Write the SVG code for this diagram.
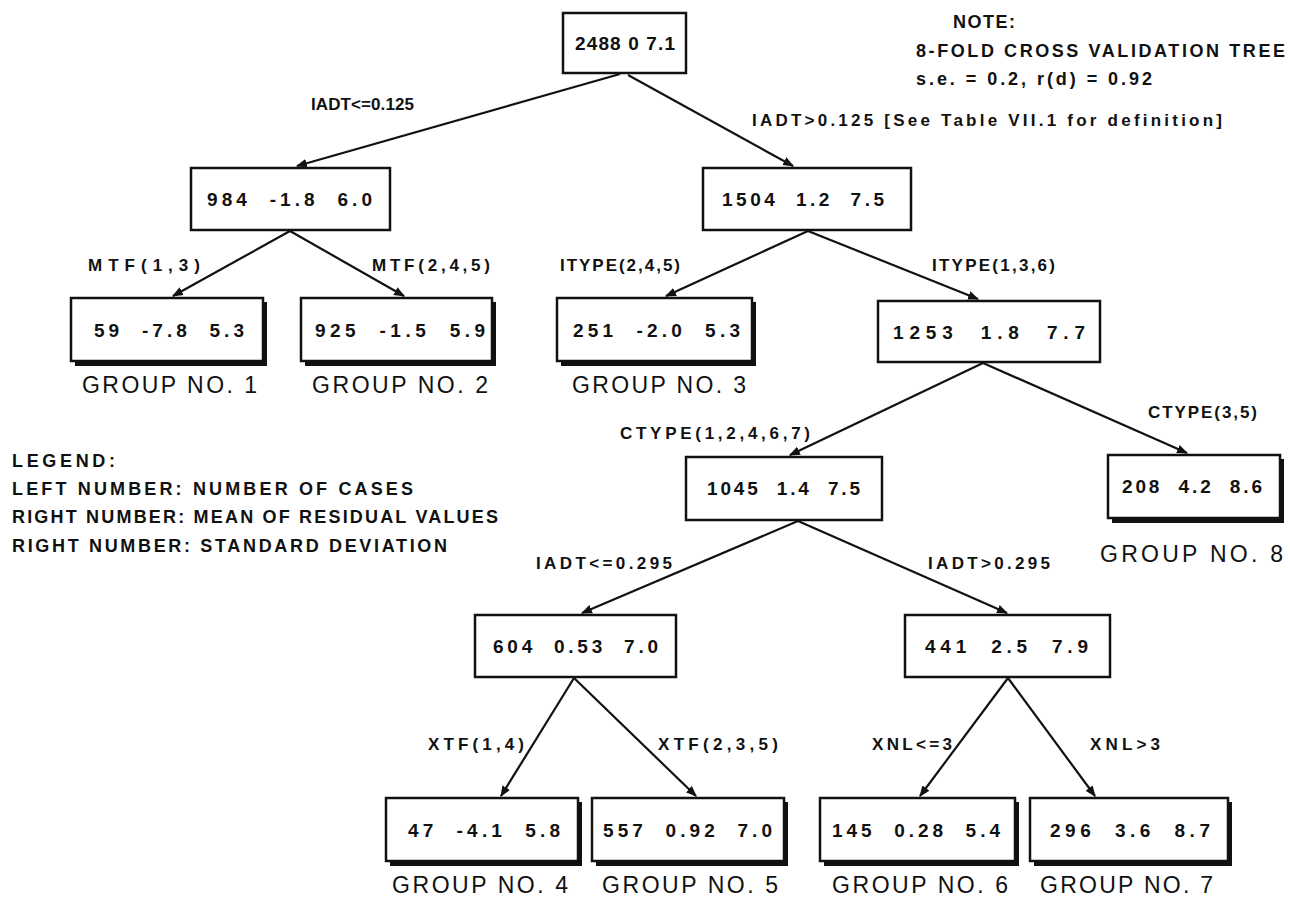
<svg xmlns="http://www.w3.org/2000/svg" width="1290" height="898" viewBox="0 0 1290 898">
<defs>
<style>
.bx{fill:#fff;stroke:#111;stroke-width:2.5}
.sh{fill:#111}
.v{font-family:"Liberation Sans",Arial,sans-serif;font-weight:bold;font-size:19px;fill:#111;white-space:pre}
.lb{font-family:"Liberation Sans",Arial,sans-serif;font-weight:bold;font-size:17px;fill:#111}
.g{font-family:"Liberation Sans",Arial,sans-serif;font-size:23px;fill:#111}
.n{font-family:"Liberation Sans",Arial,sans-serif;font-weight:bold;font-size:18px;fill:#111}
.ln{stroke:#111;stroke-width:2.2;fill:none;marker-end:url(#ah)}
</style>
<marker id="ah" viewBox="0 0 10 10" refX="9" refY="5" markerWidth="5" markerHeight="5" orient="auto" markerUnits="strokeWidth">
<path d="M0,1 L10,5 L0,9 Z" fill="#111"/>
</marker>
</defs>
<rect width="1290" height="898" fill="#fff"/>

<g id="connectors">
<line class="ln" x1="620" y1="74" x2="297" y2="166"/>
<line class="ln" x1="628" y1="75" x2="793" y2="166"/>
<line class="ln" x1="290" y1="231" x2="173" y2="296"/>
<line class="ln" x1="290" y1="231" x2="404" y2="296"/>
<line class="ln" x1="808" y1="231" x2="666" y2="296"/>
<line class="ln" x1="808" y1="231" x2="978" y2="299"/>
<line class="ln" x1="983" y1="363" x2="790" y2="455"/>
<line class="ln" x1="983" y1="363" x2="1187" y2="453"/>
<line class="ln" x1="798" y1="521" x2="582" y2="613"/>
<line class="ln" x1="798" y1="521" x2="1007" y2="613"/>
<line class="ln" x1="574" y1="678" x2="501" y2="796"/>
<line class="ln" x1="574" y1="678" x2="696" y2="796"/>
<line class="ln" x1="1008" y1="678" x2="920" y2="796"/>
<line class="ln" x1="1008" y1="678" x2="1095" y2="796"/>
</g>

<g id="edge-labels">
<text class="lb" x="311" y="110" textLength="103" lengthAdjust="spacing">IADT&lt;=0.125</text>
<text class="lb" x="752" y="126" textLength="470" lengthAdjust="spacing">IADT&gt;0.125 [See Table VII.1 for definition]</text>
<text class="lb" x="88" y="271" textLength="112" lengthAdjust="spacing">MTF(1,3)</text>
<text class="lb" x="372" y="271" textLength="118" lengthAdjust="spacing">MTF(2,4,5)</text>
<text class="lb" x="560" y="271" textLength="120" lengthAdjust="spacing">ITYPE(2,4,5)</text>
<text class="lb" x="932" y="271" textLength="123" lengthAdjust="spacing">ITYPE(1,3,6)</text>
<text class="lb" x="620" y="439" textLength="190" lengthAdjust="spacing">CTYPE(1,2,4,6,7)</text>
<text class="lb" x="1148" y="418" textLength="109" lengthAdjust="spacing">CTYPE(3,5)</text>
<text class="lb" x="536" y="569" textLength="136" lengthAdjust="spacing">IADT&lt;=0.295</text>
<text class="lb" x="928" y="569" textLength="122" lengthAdjust="spacing">IADT&gt;0.295</text>
<text class="lb" x="428" y="750" textLength="96" lengthAdjust="spacing">XTF(1,4)</text>
<text class="lb" x="658" y="750" textLength="120" lengthAdjust="spacing">XTF(2,3,5)</text>
<text class="lb" x="872" y="750" textLength="80" lengthAdjust="spacing">XNL&lt;=3</text>
<text class="lb" x="1090" y="750" textLength="70" lengthAdjust="spacing">XNL&gt;3</text>
</g>

<g id="node-root">
<rect class="bx" x="563" y="13" width="123" height="60"/>
<text class="v" x="575" y="50" textLength="100" lengthAdjust="spacing">2488 0 7.1</text>
</g>

<g id="node-984">
<rect class="bx" x="191" y="168" width="199" height="62"/>
<text class="v" x="207" y="206" textLength="165" lengthAdjust="spacing">984  -1.8  6.0</text>
</g>

<g id="node-1504">
<rect class="bx" x="703" y="168" width="208" height="62"/>
<text class="v" x="722" y="206" textLength="162" lengthAdjust="spacing">1504  1.2  7.5</text>
</g>

<g id="node-g1">
<rect class="sh" x="75" y="302" width="192" height="64"/>
<rect class="bx" x="71" y="298" width="192" height="63"/>
<text class="v" x="94" y="337" textLength="150" lengthAdjust="spacing">59  -7.8  5.3</text>
<text class="g" x="82" y="393" textLength="175" lengthAdjust="spacing">GROUP NO. 1</text>
</g>

<g id="node-g2">
<rect class="sh" x="305" y="302" width="191" height="64"/>
<rect class="bx" x="301" y="298" width="191" height="63"/>
<text class="v" x="315" y="337" textLength="170" lengthAdjust="spacing">925  -1.5  5.9</text>
<text class="g" x="312" y="393" textLength="176" lengthAdjust="spacing">GROUP NO. 2</text>
</g>

<g id="node-g3">
<rect class="sh" x="561" y="302" width="195" height="64"/>
<rect class="bx" x="557" y="298" width="195" height="63"/>
<text class="v" x="573" y="337" textLength="167" lengthAdjust="spacing">251  -2.0  5.3</text>
<text class="g" x="572" y="393" textLength="174" lengthAdjust="spacing">GROUP NO. 3</text>
</g>

<g id="node-1253">
<rect class="bx" x="878" y="301" width="222" height="61"/>
<text class="v" x="893" y="339" textLength="192" lengthAdjust="spacing">1253  1.8  7.7</text>
</g>

<g id="node-1045">
<rect class="bx" x="686" y="457" width="196" height="63"/>
<text class="v" x="707" y="495" textLength="153" lengthAdjust="spacing">1045  1.4  7.5</text>
</g>

<g id="node-g8">
<rect class="sh" x="1112" y="459" width="172" height="64"/>
<rect class="bx" x="1108" y="455" width="172" height="63"/>
<text class="v" x="1122" y="493" textLength="140" lengthAdjust="spacing">208  4.2  8.6</text>
<text class="g" x="1100" y="562" textLength="183" lengthAdjust="spacing">GROUP NO. 8</text>
</g>

<g id="node-604">
<rect class="bx" x="475" y="615" width="201" height="62"/>
<text class="v" x="493" y="653" textLength="165" lengthAdjust="spacing">604  0.53  7.0</text>
</g>

<g id="node-441">
<rect class="bx" x="905" y="615" width="205" height="62"/>
<text class="v" x="925" y="653" textLength="163" lengthAdjust="spacing">441  2.5  7.9</text>
</g>

<g id="node-g4">
<rect class="sh" x="390" y="802" width="192" height="64"/>
<rect class="bx" x="386" y="798" width="192" height="63"/>
<text class="v" x="408" y="837" textLength="152" lengthAdjust="spacing">47  -4.1  5.8</text>
<text class="g" x="392" y="893" textLength="176" lengthAdjust="spacing">GROUP NO. 4</text>
</g>

<g id="node-g5">
<rect class="sh" x="596" y="802" width="192" height="64"/>
<rect class="bx" x="592" y="798" width="192" height="63"/>
<text class="v" x="603" y="837" textLength="169" lengthAdjust="spacing">557  0.92  7.0</text>
<text class="g" x="602" y="893" textLength="176" lengthAdjust="spacing">GROUP NO. 5</text>
</g>

<g id="node-g6">
<rect class="sh" x="824" y="802" width="195" height="64"/>
<rect class="bx" x="820" y="798" width="195" height="63"/>
<text class="v" x="832" y="837" textLength="168" lengthAdjust="spacing">145  0.28  5.4</text>
<text class="g" x="832" y="893" textLength="176" lengthAdjust="spacing">GROUP NO. 6</text>
</g>

<g id="node-g7">
<rect class="sh" x="1034" y="802" width="198" height="64"/>
<rect class="bx" x="1030" y="798" width="198" height="63"/>
<text class="v" x="1050" y="837" textLength="160" lengthAdjust="spacing">296  3.6  8.7</text>
<text class="g" x="1040" y="893" textLength="173" lengthAdjust="spacing">GROUP NO. 7</text>
</g>

<g id="note">
<text class="n" x="953" y="28" textLength="62" lengthAdjust="spacing">NOTE:</text>
<text class="n" x="916" y="57" textLength="369" lengthAdjust="spacing">8-FOLD CROSS VALIDATION TREE</text>
<text class="n" x="916" y="85" textLength="236" lengthAdjust="spacing">s.e. = 0.2, r(d) = 0.92</text>
</g>

<g id="legend">
<text class="n" x="12" y="467" textLength="103" lengthAdjust="spacing">LEGEND:</text>
<text class="n" x="12" y="495" textLength="401" lengthAdjust="spacing">LEFT NUMBER: NUMBER OF CASES</text>
<text class="n" x="12" y="523" textLength="486" lengthAdjust="spacing">RIGHT NUMBER: MEAN OF RESIDUAL VALUES</text>
<text class="n" x="12" y="552" textLength="435" lengthAdjust="spacing">RIGHT NUMBER: STANDARD DEVIATION</text>
</g>
</svg>
